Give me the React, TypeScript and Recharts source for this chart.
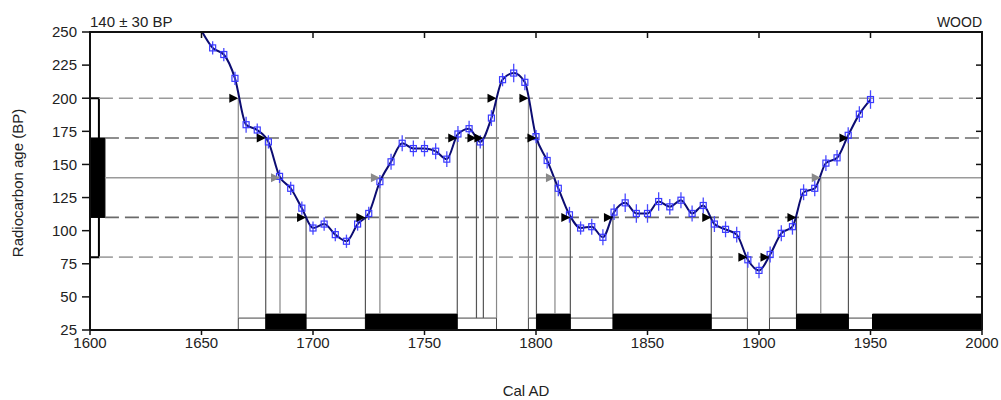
import React from "react";
import {
  ComposedChart,
  Line,
  XAxis,
  YAxis,
  ReferenceLine,
  ReferenceArea,
  ReferenceDot,
  ErrorBar,
  Label,
} from "recharts";

const font = "'Liberation Sans', Arial, sans-serif";

// calibration curve points (Cal AD vs radiocarbon age BP)
const years = [
  1655, 1660, 1665, 1670, 1675, 1680, 1685, 1690, 1695, 1700,
  1705, 1710, 1715, 1720, 1725, 1730, 1735, 1740, 1745, 1750,
  1755, 1760, 1765, 1770, 1775, 1780, 1785, 1790, 1795, 1800,
  1805, 1810, 1815, 1820, 1825, 1830, 1835, 1840, 1845, 1850,
  1855, 1860, 1865, 1870, 1875, 1880, 1885, 1890, 1895, 1900,
  1905, 1910, 1915, 1920, 1925, 1930, 1935, 1940, 1945, 1950,
];
const ages = [
  238, 233, 215, 180, 176, 167, 141, 132, 117, 102,
  105, 97, 92, 105, 113, 137, 152, 166, 162, 162,
  160, 154, 173, 177, 167, 185, 214, 219, 212, 171,
  153, 132, 112, 102, 103, 95, 114, 121, 113, 113,
  122, 118, 123, 113, 119, 105, 101, 97, 78, 70,
  82, 98, 103, 129, 132, 151, 155, 172, 188, 199,
];
const errors = [
  5, 5, 5, 6, 5, 5, 5, 5, 5, 5,
  5, 5, 5, 5, 5, 5, 6, 6, 6, 6,
  6, 6, 6, 6, 5, 6, 5, 7, 6, 5,
  6, 6, 6, 5, 6, 6, 6, 7, 7, 7,
  7, 6, 6, 6, 6, 6, 6, 6, 6, 6,
  6, 6, 6, 6, 6, 6, 6, 6, 6, 7,
];
// the curve enters the plot through the top edge
const curveStartYear = 1650;
const curveStartAge = 251;

const xTicks = [1600, 1650, 1700, 1750, 1800, 1850, 1900, 1950, 2000];
const yTicks = [25, 50, 75, 100, 125, 150, 175, 200, 225, 250];

// sample: 140 ± 30 BP
const sampleAge = 140;
const sampleSigma = 30;

// curve crossings of each level
const cross200 = [1666.5, 1782.3, 1796.6];
const cross170 = [1678.8, 1764.7, 1773.3, 1776.4, 1800.2, 1940.1];
const cross140 = [1685.2, 1730.0, 1808.5, 1927.7];
const cross110 = [1696.9, 1723.5, 1815.4, 1834.5, 1878.6, 1916.8];
const cross80 = [1894.8, 1904.7];

// calibrated ranges
const range95 = [
  [1666.5, 1782.3],
  [1796.6, 1894.8],
  [1904.7, 1950.9],
];
const range68 = [
  [1678.8, 1696.9],
  [1723.5, 1764.7],
  [1800.2, 1815.4],
  [1834.5, 1878.6],
  [1916.8, 1940.1],
  [1950.9, 2000],
];

const data = [
  { year: curveStartYear, curve: curveStartAge, pt: null, err: 0 },
  ...years.map((y, i) => ({ year: y, curve: ages[i], pt: ages[i], err: errors[i] })),
];

const box95Top = 34;
const box68Top = 37;

// chart layout
const chartW = 1001;
const chartH = 400;
const margin = { top: 32, right: 19, bottom: 40, left: 30 };
const xAxisH = 30;
const plotTop = margin.top;
const plotRight = chartW - margin.right;
const plotBottom = chartH - margin.bottom - xAxisH;
const plotLeft = margin.left + 60;

function bottomAt(yr: number) {
  if (range68.some(([a, b]) => yr >= a - 0.01 && yr <= b + 0.01)) return box68Top;
  if (range95.some(([a, b]) => yr >= a - 0.01 && yr <= b + 0.01)) return box95Top;
  return 25;
}

const arrow = (color: string) => (props: any) => {
  const { cx, cy } = props;
  if (cx == null || cy == null) return <g />;
  return <path d={`M${cx},${cy} L${cx - 9},${cy - 4.5} L${cx - 9},${cy + 4.5} Z`} fill={color} />;
};

const Square = (props: any) => {
  const { cx, cy, index } = props;
  if (cx == null || cy == null || props.value == null) return <g key={`sq-${index}`} />;
  return (
    <rect
      key={`sq-${index}`}
      x={cx - 3}
      y={cy - 3}
      width={6}
      height={6}
      fill="none"
      stroke="#3a3aff"
      strokeWidth={1.2}
    />
  );
};

// x tick: label below the axis plus the inward tick on the top edge
const XTick = (p: any) => (
  <g>
    <text x={p.x} y={p.y} dy="0.71em" textAnchor="middle" fill="#222" fontSize={15} fontFamily={font}>
      {p.payload.value}
    </text>
    <line x1={p.x} y1={plotTop} x2={p.x} y2={plotTop + 6} stroke="#111" strokeWidth={1.5} />
  </g>
);

// y tick: label left of the axis plus the inward tick on the right edge
const YTick = (p: any) => (
  <g>
    <text x={p.x} y={p.y} dy="0.355em" textAnchor="end" fill="#222" fontSize={15} fontFamily={font}>
      {p.payload.value}
    </text>
    <line x1={plotRight} y1={p.y} x2={plotRight - 6} y2={p.y} stroke="#111" strokeWidth={1.5} />
  </g>
);

const levels = [
  { level: sampleAge + 2 * sampleSigma, years: cross200, line: "#9a9a9a", vline: "#888", dash: "14 6", arrowColor: "#000", from: 1604 },
  { level: sampleAge + sampleSigma, years: cross170, line: "#6a6a6a", vline: "#555", dash: "14 6", arrowColor: "#000", from: 1606.7 },
  { level: sampleAge, years: cross140, line: "#9a9a9a", vline: "#888", dash: undefined, arrowColor: "#8a8a8a", from: 1606.7 },
  { level: sampleAge - sampleSigma, years: cross110, line: "#6a6a6a", vline: "#555", dash: "14 6", arrowColor: "#000", from: 1606.7 },
  { level: sampleAge - 2 * sampleSigma, years: cross80, line: "#a5a5a5", vline: "#888", dash: "14 6", arrowColor: "#000", from: 1604 },
];

export default function App() {
  return (
    <div style={{ position: "absolute", left: 0, top: 0, background: "#fff" }}>
      <ComposedChart width={chartW} height={chartH} data={data} margin={margin}>
        <XAxis
          dataKey="year"
          type="number"
          domain={[1600, 2000]}
          ticks={xTicks}
          interval={0}
          allowDataOverflow
          height={xAxisH}
          tickSize={5}
          tickMargin={2}
          axisLine={{ stroke: "#111", strokeWidth: 2 }}
          tickLine={{ stroke: "#111", strokeWidth: 1.5 }}
          tick={XTick}
        >
          <Label
            content={() => (
              <text x={526} y={396} textAnchor="middle" fill="#222" fontSize={15} fontFamily={font}>
                Cal AD
              </text>
            )}
          />
          <Label
            content={() => (
              <text x={90} y={27} fill="#222" fontSize={15} fontFamily={font}>
                140 ± 30 BP
              </text>
            )}
          />
          <Label
            content={() => (
              <text x={982} y={27} textAnchor="end" fill="#222" fontSize={14} fontFamily={font}>
                WOOD
              </text>
            )}
          />
          {/* top and right edges of the frame */}
          <Label
            content={() => (
              <g>
                <line x1={plotLeft - 1} y1={plotTop} x2={plotRight + 1} y2={plotTop} stroke="#111" strokeWidth={2} />
                <line x1={plotRight} y1={plotTop} x2={plotRight} y2={plotBottom} stroke="#111" strokeWidth={2} />
              </g>
            )}
          />
        </XAxis>
        <YAxis
          type="number"
          domain={[25, 250]}
          ticks={yTicks}
          interval={0}
          allowDataOverflow
          width={60}
          tickSize={8}
          tickMargin={5}
          axisLine={{ stroke: "#111", strokeWidth: 2 }}
          tickLine={{ stroke: "#111", strokeWidth: 1.5 }}
          tick={YTick}
        >
          <Label
            content={() => (
              <text
                x={23}
                y={183}
                transform="rotate(-90 23 183)"
                textAnchor="middle"
                fill="#222"
                fontSize={15}
                fontFamily={font}
              >
                Radiocarbon age (BP)
              </text>
            )}
          />
        </YAxis>

        {/* horizontal sample levels */}
        {levels.map((lv) => (
          <ReferenceLine
            key={`h-${lv.level}`}
            segment={[
              { x: lv.from, y: lv.level },
              { x: 2000, y: lv.level },
            ]}
            stroke={lv.line}
            strokeWidth={1.6}
            strokeDasharray={lv.dash}
          />
        ))}

        {/* drop lines from the crossings */}
        {levels.flatMap((lv) =>
          lv.years.map((yr) => (
            <ReferenceLine
              key={`v-${lv.level}-${yr}`}
              segment={[
                { x: yr, y: lv.level },
                { x: yr, y: bottomAt(yr) },
              ]}
              stroke={lv.vline}
              strokeWidth={1.2}
            />
          ))
        )}

        {/* calibrated ranges */}
        {range95.map(([a, b]) => (
          <ReferenceArea
            key={`r95-${a}`}
            x1={a}
            x2={b}
            y1={25}
            y2={box95Top}
            fill="#fff"
            fillOpacity={1}
            stroke="#444"
            strokeWidth={1}
          />
        ))}
        {range68.map(([a, b]) => (
          <ReferenceArea
            key={`r68-${a}`}
            x1={a}
            x2={b}
            y1={25}
            y2={box68Top}
            fill="#000"
            fillOpacity={1}
            stroke="#000"
            strokeWidth={1}
          />
        ))}

        {/* sample box on the age axis */}
        <ReferenceArea
          x1={1600}
          x2={1604}
          y1={sampleAge - 2 * sampleSigma}
          y2={sampleAge + 2 * sampleSigma}
          fill="#fff"
          fillOpacity={1}
          stroke="#000"
          strokeWidth={2}
        />
        <ReferenceArea
          x1={1600}
          x2={1606.7}
          y1={sampleAge - sampleSigma}
          y2={sampleAge + sampleSigma}
          fill="#000"
          fillOpacity={1}
          stroke="#000"
          strokeWidth={1}
        />

        <Line
          dataKey="curve"
          type="monotone"
          stroke="#0c0c72"
          strokeWidth={2}
          dot={false}
          activeDot={false}
          isAnimationActive={false}
        />
        <Line
          dataKey="pt"
          type="linear"
          stroke="none"
          dot={Square}
          activeDot={false}
          isAnimationActive={false}
        >
          <ErrorBar dataKey="err" width={0} stroke="#4a4aff" strokeWidth={1.3} direction="y" />
        </Line>

        {levels.flatMap((lv) =>
          lv.years.map((yr) => (
            <ReferenceDot
              key={`a-${lv.level}-${yr}`}
              x={yr}
              y={lv.level}
              r={5}
              shape={arrow(lv.arrowColor)}
            />
          ))
        )}
      </ComposedChart>
    </div>
  );
}
